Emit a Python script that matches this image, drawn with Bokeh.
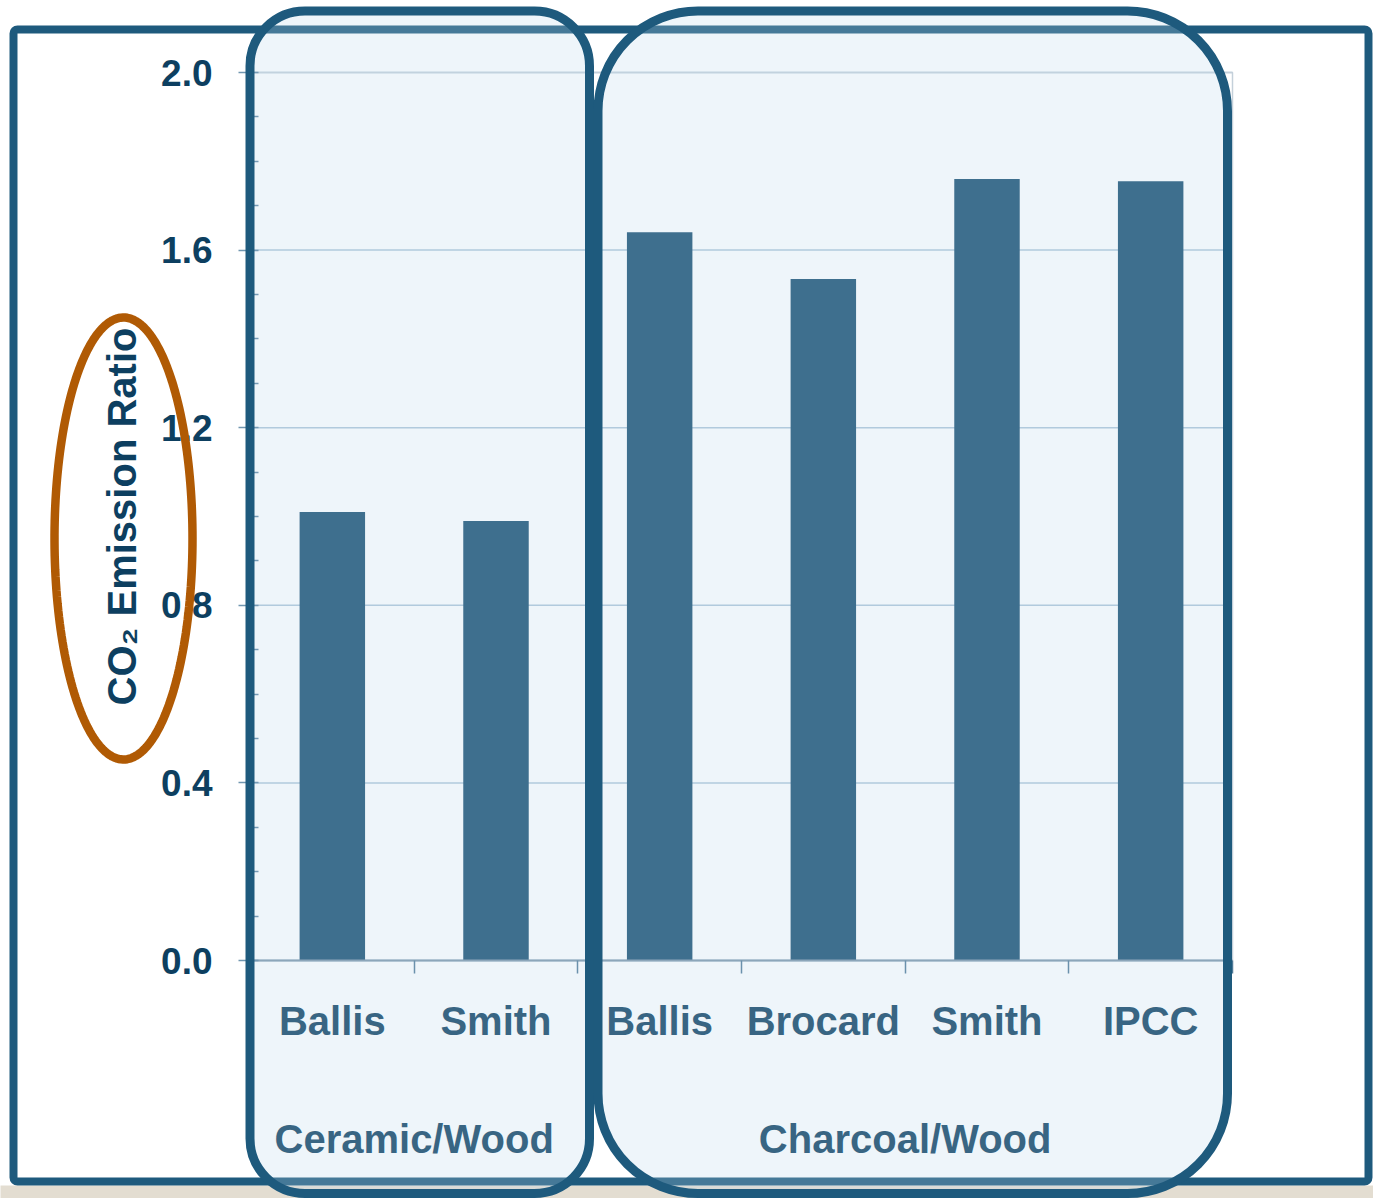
import numpy as np
from bokeh.plotting import figure
from bokeh.models import (Range1d, LinearAxis, FixedTicker, SingleIntervalTicker,
                          NumeralTickFormatter, BoxAnnotation, PolyAnnotation)
from bokeh.embed import file_html
from bokeh.resources import INLINE

# ---------------- data ----------------
groups = ["Ceramic/Wood", "Ceramic/Wood", "Charcoal/Wood", "Charcoal/Wood", "Charcoal/Wood", "Charcoal/Wood"]
sources = ["Ballis", "Smith", "Ballis", "Brocard", "Smith", "IPCC"]
ratios = [1.01, 0.99, 1.64, 1.535, 1.76, 1.755]
y_ticks = [0.0, 0.4, 0.8, 1.2, 1.6, 2.0]
y_label = "CO\u2082 Emission Ratio"

# ---------------- styles / page geometry ----------------
FONT = "Liberation Sans"
TEXT = "#0d3f60"
BAR = "#154c6f"
BORDER = "#1e5a7d"
BOX_FILL = "#bcd7eb"
ORANGE = "#b05a04"

W, H = 1373, 1198
PL, PR, PT, PB = 250, 1232, 72, 960      # plot-area edges on the page (px)

n = len(sources)
centers = [i + 0.5 for i in range(n)]      # category slot centres
bounds = [i + 1 for i in range(n)]         # category slot boundaries
group_names = list(dict.fromkeys(groups))
group_centers = [float(np.mean([centers[i] for i, g in enumerate(groups) if g == gn]))
                 for gn in group_names]
y0, y1 = y_ticks[0], y_ticks[-1]

# the frame covers the whole page; data ranges are stretched so that the
# plot area lands at PL..PR x PT..PB
kx = (PR - PL) / n
ky = (PB - PT) / (y1 - y0)
idx_range = Range1d(0 - PL / kx, n + (W - PR) / kx)
val_range = Range1d(y0 - (H - PB) / ky, y1 + PT / ky)

p = figure(width=W, height=H, x_range=Range1d(0, W), y_range=Range1d(H, 0),
           output_backend="svg", toolbar_location=None,
           x_axis_location=None, y_axis_location=None, min_border=0,
           background_fill_color="white", border_fill_color="white")
p.title.visible = False
p.outline_line_color = None
p.grid.visible = False
p.extra_x_ranges = {"idx": idx_range}
p.extra_y_ranges = {"val": val_range}

# grid lines and plot-area outline
p.segment(x0=0, x1=n, y0=y_ticks, y1=y_ticks, x_range_name="idx", y_range_name="val",
          line_color="#aec6d8", line_width=1.5)
p.quad(left=0, right=n, bottom=y0, top=y1, x_range_name="idx", y_range_name="val",
       fill_alpha=0, line_color="#c4d0da", line_width=1.5)

# bars
p.vbar(x=centers, top=ratios, width=0.4, x_range_name="idx", y_range_name="val",
       fill_color=BAR, line_color=None)

# y axis
ya = LinearAxis(y_range_name="val", fixed_location=PL, bounds=(y0, y1),
                ticker=SingleIntervalTicker(interval=y_ticks[1] - y_ticks[0], num_minor_ticks=4),
                formatter=NumeralTickFormatter(format="0.0"))
ya.major_label_text_font = FONT
ya.major_label_text_font_style = "bold"
ya.major_label_text_font_size = "37px"
ya.major_label_text_color = TEXT
ya.major_label_standoff = 26
ya.major_tick_out = 12
ya.major_tick_in = 0
ya.minor_tick_in = 8
ya.minor_tick_out = 0
ya.major_tick_line_color = "#7196b0"
ya.major_tick_line_width = 1.5
ya.minor_tick_line_color = "#5f86a3"
ya.minor_tick_line_width = 1.5
ya.axis_line_color = BORDER
ya.axis_line_width = 2
ya.axis_label = y_label
ya.axis_label_text_font = FONT
ya.axis_label_text_font_style = "bold"
ya.axis_label_text_font_size = "40px"
ya.axis_label_text_color = TEXT
ya.axis_label_standoff = 14
p.add_layout(ya, "left")

# x axis: labels at category centres, ticks at category boundaries
xa = LinearAxis(x_range_name="idx", fixed_location=PB, bounds=(0, n),
                ticker=FixedTicker(ticks=centers, minor_ticks=bounds),
                major_label_overrides={c: s for c, s in zip(centers, sources)})
xa.major_label_text_font = FONT
xa.major_label_text_font_style = "bold"
xa.major_label_text_font_size = "40px"
xa.major_label_text_color = TEXT
xa.major_tick_out = 0
xa.major_tick_in = 0
xa.minor_tick_out = 13
xa.minor_tick_in = 0
xa.minor_tick_line_color = "#4f7a97"
xa.minor_tick_line_width = 1.5
xa.axis_line_color = "#7c96aa"
xa.axis_line_width = 2
xa.major_label_standoff = 25
p.add_layout(xa, "below")

# group axis: group names centred under their categories
ga = LinearAxis(x_range_name="idx", fixed_location=PB, bounds=(0, n),
                ticker=FixedTicker(ticks=group_centers, minor_ticks=[]),
                major_label_overrides={c: g for c, g in zip(group_centers, group_names)})
ga.major_label_text_font = FONT
ga.major_label_text_font_style = "bold"
ga.major_label_text_font_size = "40px"
ga.major_label_text_color = TEXT
ga.major_tick_out = 0
ga.major_tick_in = 0
ga.minor_tick_out = 0
ga.axis_line_color = None
ga.major_label_standoff = 156
p.add_layout(ga, "below")

# ---------------- decorations (canvas pixel units) ----------------
def cbox(**kw):
    return BoxAnnotation(left_units="canvas", right_units="canvas",
                         top_units="canvas", bottom_units="canvas", **kw)

p.add_layout(cbox(left=-20, right=1400, top=1185, bottom=1215,
                  fill_color="#e3ddd1", fill_alpha=1, line_alpha=0))
p.add_layout(cbox(left=13, right=1368, top=29, bottom=1181, border_radius=4,
                  fill_alpha=0, line_color=BORDER, line_alpha=1, line_width=8))
p.add_layout(cbox(left=249.5, right=589, top=10.5, bottom=1193, border_radius=55,
                  fill_color=BOX_FILL, fill_alpha=0.25,
                  line_color=BORDER, line_alpha=1, line_width=9))
p.add_layout(cbox(left=597.5, right=1227, top=10.5, bottom=1193, border_radius=100,
                  fill_color=BOX_FILL, fill_alpha=0.25,
                  line_color=BORDER, line_alpha=1, line_width=9))

# orange ellipse around the axis title
t = np.linspace(0, 2 * np.pi, 200)
p.add_layout(PolyAnnotation(xs=list(123 + 69 * np.cos(t)), ys=list(538 + 221 * np.sin(t)),
                            xs_units="canvas", ys_units="canvas",
                            fill_alpha=0, line_color=ORANGE, line_alpha=1, line_width=8.5))

open("out.html", "w").write(file_html(p, INLINE))
